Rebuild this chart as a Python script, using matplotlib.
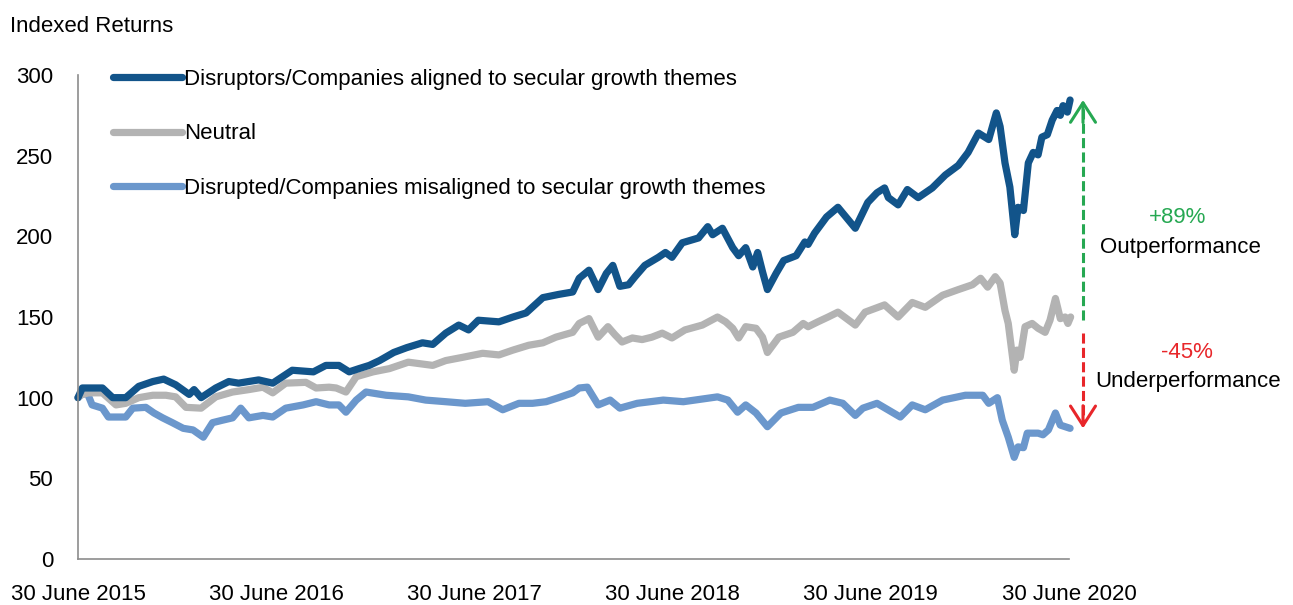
import pandas as pd
import matplotlib.pyplot as plt
import matplotlib.transforms as mtransforms
from matplotlib import font_manager

# Data (indexed to 100 at 30 June 2015)
disruptor_dates = ["2015-06-30", "2015-07-08", "2015-08-14", "2015-09-02", "2015-09-26", "2015-10-20",
                   "2015-11-15", "2015-12-05", "2015-12-27", "2016-01-21", "2016-01-30", "2016-02-12",
                   "2016-03-10", "2016-04-03", "2016-04-21", "2016-05-28", "2016-06-23", "2016-07-29",
                   "2016-09-06", "2016-09-29", "2016-10-23", "2016-11-11", "2016-11-29", "2016-12-18",
                   "2017-01-06", "2017-02-01", "2017-02-25", "2017-03-26", "2017-04-14", "2017-05-08",
                   "2017-06-01", "2017-06-19", "2017-07-07", "2017-08-14", "2017-09-09", "2017-10-03",
                   "2017-11-03", "2017-12-02", "2017-12-28", "2018-01-09", "2018-01-27", "2018-02-13",
                   "2018-02-28", "2018-03-12", "2018-03-25", "2018-04-10", "2018-04-22", "2018-05-10",
                   "2018-06-04", "2018-06-17", "2018-06-29", "2018-07-18", "2018-08-17", "2018-09-03",
                   "2018-09-12", "2018-09-30", "2018-10-19", "2018-10-30", "2018-11-12", "2018-11-25",
                   "2018-12-04", "2018-12-13", "2018-12-22", "2019-01-07", "2019-01-21", "2019-02-13",
                   "2019-03-01", "2019-03-07", "2019-03-19", "2019-04-10", "2019-05-01", "2019-06-02",
                   "2019-06-25", "2019-07-12", "2019-07-26", "2019-08-02", "2019-08-20", "2019-09-06",
                   "2019-09-26", "2019-10-22", "2019-11-15", "2019-12-09", "2019-12-27", "2020-01-15",
                   "2020-02-03", "2020-02-17", "2020-02-24", "2020-03-04", "2020-03-13", "2020-03-22",
                   "2020-03-28", "2020-04-07", "2020-04-16", "2020-04-25", "2020-05-04", "2020-05-11",
                   "2020-05-21", "2020-05-30", "2020-06-08", "2020-06-14", "2020-06-19", "2020-06-27",
                   "2020-07-02"]
disruptor_values = [100, 106, 106, 100, 100, 107,
                    110, 111.5, 108, 102, 105, 100,
                    106, 110, 109, 111, 109, 117,
                    116, 120, 120, 116, 118, 120,
                    123, 128, 131, 134, 133, 140,
                    145, 142, 148, 147, 150, 152.5,
                    162, 164, 165.5, 174, 179, 167,
                    177, 182, 169, 170, 175, 182,
                    187, 190, 187, 196, 199, 206,
                    201, 205, 193, 188, 193, 181,
                    190, 178, 167, 177, 185, 188,
                    196.5, 195, 202, 212, 218, 205,
                    221, 227, 230, 224, 219.5, 229,
                    224, 230, 238, 244, 252, 264,
                    260, 276.5, 268, 245.5, 230.5, 201,
                    218, 216, 245.5, 252, 250.5, 261.5,
                    263, 272, 278, 275, 281, 277,
                    284.5]

neutral_dates = ["2015-06-30", "2015-07-04", "2015-07-19", "2015-08-14", "2015-09-08", "2015-09-26",
                 "2015-10-20", "2015-11-15", "2015-12-09", "2015-12-27", "2016-01-15", "2016-02-12",
                 "2016-03-10", "2016-04-10", "2016-05-10", "2016-06-05", "2016-06-23", "2016-07-17",
                 "2016-08-23", "2016-09-11", "2016-10-05", "2016-10-18", "2016-11-05", "2016-11-24",
                 "2016-12-25", "2017-01-24", "2017-02-28", "2017-04-14", "2017-05-08", "2017-06-08",
                 "2017-07-15", "2017-08-14", "2017-09-09", "2017-10-08", "2017-11-03", "2017-11-27",
                 "2017-12-28", "2018-01-09", "2018-01-27", "2018-02-13", "2018-03-03", "2018-03-16",
                 "2018-03-29", "2018-04-17", "2018-05-05", "2018-05-23", "2018-06-11", "2018-06-29",
                 "2018-07-23", "2018-08-24", "2018-09-21", "2018-10-06", "2018-10-19", "2018-10-30",
                 "2018-11-12", "2018-12-01", "2018-12-13", "2018-12-22", "2019-01-12", "2019-02-07",
                 "2019-02-26", "2019-03-07", "2019-03-25", "2019-04-13", "2019-05-01", "2019-06-02",
                 "2019-06-20", "2019-07-14", "2019-07-26", "2019-08-20", "2019-09-15", "2019-10-09",
                 "2019-11-10", "2019-12-09", "2020-01-04", "2020-01-19", "2020-02-01", "2020-02-15",
                 "2020-02-24", "2020-03-04", "2020-03-10", "2020-03-21", "2020-03-26", "2020-04-01",
                 "2020-04-10", "2020-04-23", "2020-05-04", "2020-05-17", "2020-05-26", "2020-06-05",
                 "2020-06-14", "2020-06-23", "2020-06-28", "2020-07-03"]
neutral_values = [100, 101.5, 103, 103, 95.5, 96.5,
                  100, 101.5, 101.5, 100.5, 94, 93.5,
                  100.5, 103.5, 105, 106.5, 103, 109,
                  109.5, 106, 106.5, 106, 103.5, 113,
                  116, 118, 122, 120, 123, 125,
                  127.5, 126.5, 129.5, 132.5, 134, 137.5,
                  140.5, 146, 149, 137.5, 144, 139,
                  134.5, 137, 136, 137.5, 140, 137,
                  142, 145, 150, 147, 143, 137,
                  144, 143, 137.5, 128, 137.5, 140.5,
                  146, 144, 147, 150, 153, 145,
                  153, 156, 157.5, 150, 159, 156,
                  163.5, 167, 170, 174, 168.5, 175,
                  171, 154, 146, 117, 129.5, 125,
                  144, 146, 143, 140.5, 148, 161.5,
                  149, 150, 146, 150]

disrupted_dates = ["2015-06-30", "2015-07-04", "2015-07-17", "2015-07-26", "2015-08-14", "2015-08-25",
                   "2015-09-11", "2015-09-26", "2015-10-09", "2015-11-02", "2015-11-17", "2015-12-03",
                   "2015-12-21", "2016-01-10", "2016-01-28", "2016-02-16", "2016-03-04", "2016-03-22",
                   "2016-04-10", "2016-04-25", "2016-05-10", "2016-06-05", "2016-06-23", "2016-07-17",
                   "2016-08-18", "2016-09-11", "2016-10-05", "2016-10-23", "2016-11-05", "2016-11-24",
                   "2016-12-12", "2017-01-18", "2017-02-28", "2017-04-01", "2017-05-08", "2017-06-13",
                   "2017-07-25", "2017-08-21", "2017-09-20", "2017-10-15", "2017-11-09", "2017-12-02",
                   "2017-12-28", "2018-01-09", "2018-01-24", "2018-02-13", "2018-03-07", "2018-03-25",
                   "2018-04-26", "2018-06-13", "2018-07-20", "2018-09-21", "2018-10-10", "2018-10-28",
                   "2018-11-12", "2018-12-01", "2018-12-22", "2019-01-16", "2019-02-17", "2019-03-16",
                   "2019-04-16", "2019-05-10", "2019-06-02", "2019-06-16", "2019-07-12", "2019-08-24",
                   "2019-09-15", "2019-10-09", "2019-11-10", "2019-12-22", "2020-01-23", "2020-02-03",
                   "2020-02-19", "2020-02-28", "2020-03-10", "2020-03-21", "2020-03-28", "2020-04-07",
                   "2020-04-14", "2020-05-04", "2020-05-13", "2020-05-23", "2020-06-05", "2020-06-14",
                   "2020-06-23", "2020-07-02"]
disrupted_values = [100, 101.5, 103, 95.5, 93.5, 88,
                    88, 88, 93.5, 94, 90.5, 87.5,
                    84.5, 81, 80, 75.5, 84.5, 86,
                    87.5, 93.5, 87.5, 89, 88, 93.5,
                    95.5, 97.5, 95.5, 95.5, 91, 98.5,
                    103.5, 101.5, 100.5, 98.5, 97.5, 96.5,
                    97.5, 92.5, 96.5, 96.5, 97.5, 100,
                    103, 106, 106.5, 95.5, 98.5, 93.5,
                    96.5, 98.5, 97.5, 100.5, 98.5, 91,
                    95.5, 90.5, 82, 90.5, 94, 94,
                    98.5, 96.5, 89, 93.5, 96.5, 88,
                    95.5, 92.5, 98.5, 101.5, 101.5, 96.5,
                    100, 86, 75.5, 63, 69.5, 69,
                    78, 78, 77, 80, 90.5, 83,
                    82, 81]

series_labels = ["Disruptors/Companies aligned to secular growth themes",
                 "Neutral",
                 "Disrupted/Companies misaligned to secular growth themes"]
tick_years = [2015, 2016, 2017, 2018, 2019, 2020]
y_ticks = [0, 50, 100, 150, 200, 250, 300]

# Spread callout: start / tip of the outperformance and underperformance arrows
out_arrow = [148, 284.5]
under_arrow = [140, 81]

colors = ["#12548a", "#b3b3b3", "#6b97cc"]
green = "#26a852"
red = "#e8262a"

# Narrow sans if available
fams = [f.name for f in font_manager.fontManager.ttflist]
if "Liberation Sans Narrow" in fams:
    plt.rcParams["font.family"] = ["Liberation Sans Narrow", "DejaVu Sans"]
    fs = 18
else:
    plt.rcParams["font.family"] = ["Liberation Sans", "DejaVu Sans"]
    fs = 16

fig = plt.figure(figsize=(12.93, 6.05), dpi=100)
ax = fig.add_axes([78 / 1293, 1 - 559 / 605, (1069 - 78) / 1293, (559 - 75) / 605])

all_dates = [disruptor_dates, neutral_dates, disrupted_dates]
all_values = [disruptor_values, neutral_values, disrupted_values]
# draw in reverse so the dark line sits on top
for d, v, c, lab in list(zip(all_dates, all_values, colors, series_labels))[::-1]:
    ax.plot(pd.to_datetime(d), v, color=c, lw=5.2, label=lab, clip_on=False,
            solid_joinstyle="round", solid_capstyle="round")

ax.set_xlim(pd.Timestamp("2015-06-30"), pd.Timestamp("2020-06-30"))
ax.set_ylim(0, 300)
ax.set_xticks([pd.Timestamp(f"{y}-06-30") for y in tick_years])
ax.set_xticklabels([f"30 June {y}" for y in tick_years], fontsize=fs)
ax.set_yticks(y_ticks)
ax.set_yticklabels([str(t) for t in y_ticks], fontsize=fs)
ax.tick_params(axis="both", length=0)
ax.tick_params(axis="y", pad=18)
ax.tick_params(axis="x", pad=18)
for s in ["top", "right"]:
    ax.spines[s].set_visible(False)
for s in ["left", "bottom"]:
    ax.spines[s].set_color("#8c8c8c")
    ax.spines[s].set_linewidth(1.2)

# Legend, in the original order
handles, labels = ax.get_legend_handles_labels()
ax.legend(handles[::-1], labels[::-1], loc="upper left", bbox_to_anchor=(113 / 1293, 1 - 69 / 605),
          bbox_transform=fig.transFigure, frameon=False, fontsize=fs, handlelength=3.1,
          handletextpad=0.1, labelspacing=1.5, borderaxespad=0, borderpad=0)

fig.text(10 / 1293, 1 - 26 / 605, "Indexed Returns", fontsize=fs, va="center", ha="left")

# Outperformance / underperformance arrows outside the plot
trans = mtransforms.blended_transform_factory(ax.transAxes, ax.transData)
ax_x = (1083 - 78) / (1069 - 78)
ax.plot([ax_x, ax_x], [out_arrow[0], out_arrow[1] - 2], transform=trans, color=green, lw=2.2,
        ls=(0, (3.3, 1.4)), clip_on=False)
ax.plot([ax_x, ax_x], [under_arrow[0], under_arrow[1] + 2], transform=trans, color=red, lw=2.2,
        ls=(0, (3.3, 1.4)), clip_on=False)
ax.annotate("", xy=(ax_x, out_arrow[1]), xytext=(ax_x, out_arrow[1] - 14), xycoords=trans,
            textcoords=trans, annotation_clip=False,
            arrowprops=dict(arrowstyle="->,head_length=0.7,head_width=0.45", color=green, lw=2.2,
                            mutation_scale=20, shrinkA=0, shrinkB=0))
ax.annotate("", xy=(ax_x, under_arrow[1]), xytext=(ax_x, under_arrow[1] + 14), xycoords=trans,
            textcoords=trans, annotation_clip=False,
            arrowprops=dict(arrowstyle="->,head_length=0.7,head_width=0.45", color=red, lw=2.2,
                            mutation_scale=20, shrinkA=0, shrinkB=0))

fig.text(1178 / 1293, 1 - 217 / 605, "+89%", color=green, fontsize=fs, ha="center", va="center")
fig.text(1180 / 1293, 1 - 247 / 605, "Outperformance", fontsize=fs, ha="center", va="center")
fig.text(1187 / 1293, 1 - 352 / 605, "-45%", color=red, fontsize=fs, ha="center", va="center")
fig.text(1188 / 1293, 1 - 382 / 605, "Underperformance", fontsize=fs, ha="center", va="center")

fig.savefig("out.png", dpi=100)
